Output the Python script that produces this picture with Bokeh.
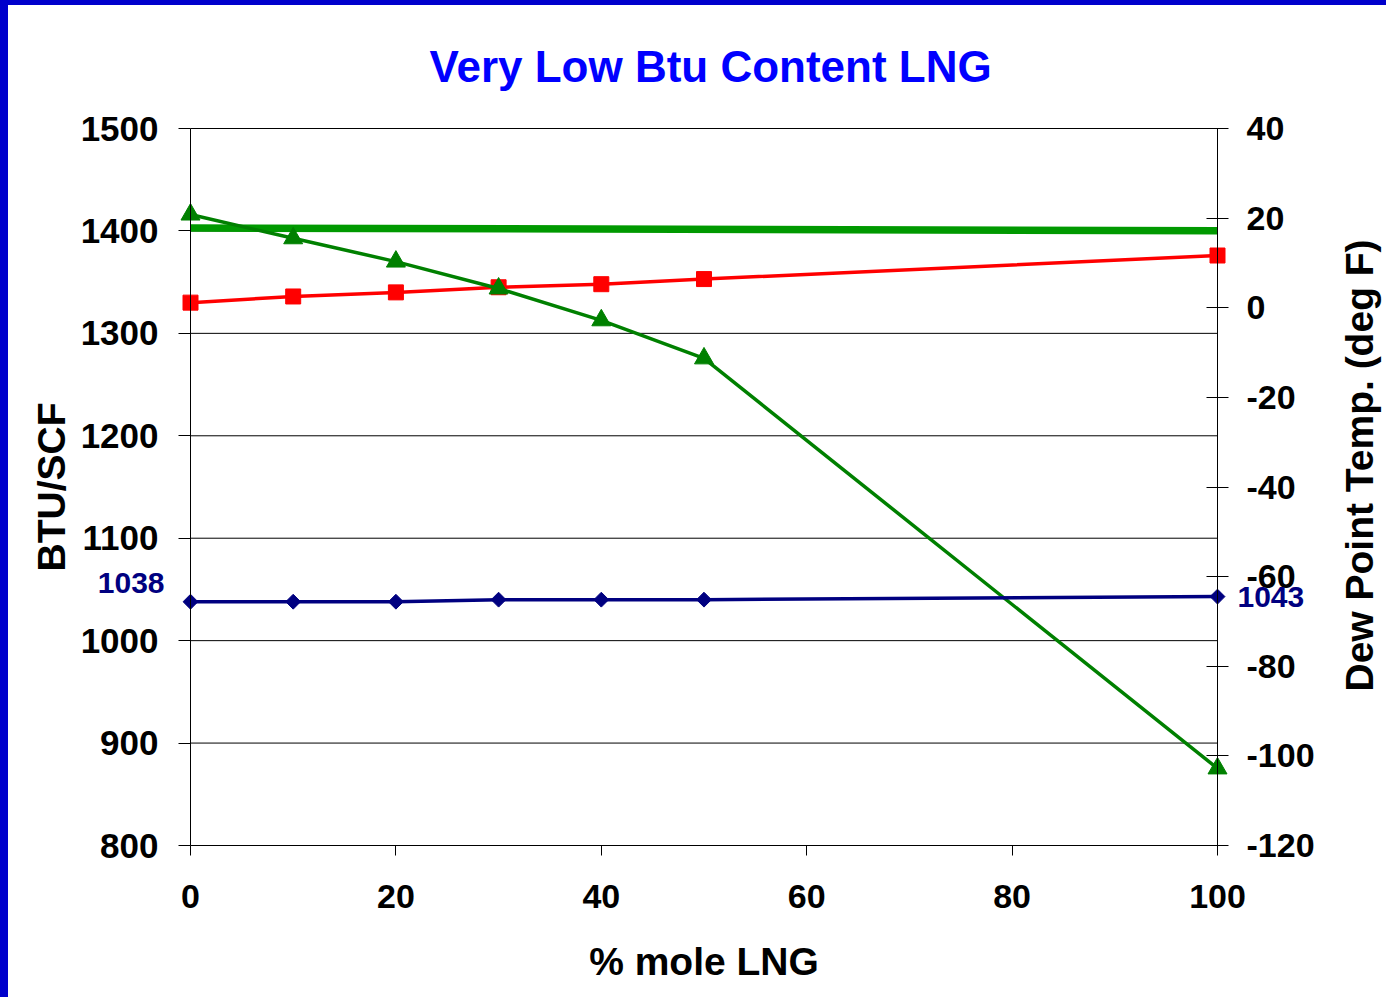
import math
from bokeh.plotting import figure
from bokeh.models import Range1d, LinearAxis, FixedTicker, Label, PrintfTickFormatter
from bokeh.embed import file_html
from bokeh.resources import INLINE

# ---- data ----
pct_lng = [0, 10, 20, 30, 40, 50, 100]
btu_lng_mix = [1038, 1038, 1038, 1040, 1040, 1040, 1043]       # blue, left axis
btu_rich = [1330, 1336, 1340, 1345, 1348, 1353, 1376]          # red, left axis
dew_point = [20.8, 15.5, 10.3, 4.3, -2.8, -11.3, -102.8]        # green, right axis
spec_x = [0, 100]
spec_dew = [17.8, 17.2]                                          # thick green, right axis

x_ticks = [0, 20, 40, 60, 80, 100]
left_ticks = [800, 900, 1000, 1100, 1200, 1300, 1400, 1500]
right_ticks = [-120, -100, -80, -60, -40, -20, 0, 20, 40]

title_text = "Very Low Btu Content LNG"
x_label = "% mole LNG"
left_label = "BTU/SCF"
right_label = "Dew Point Temp. (deg F)"
start_note = "1038"
end_note = "1043"

FONT = "Liberation Sans"

# ---- layout (canvas pixels) ----
W, H = 1386, 997            # canvas size (page offset by the blue border 8px / 5px)
TOP = 90                    # title band above the drawing area
PX_X0, PX_X1 = 182, 1209    # pixel columns of x = 0 and x = 100
PX_Y1, PX_Y0 = 123, 840     # pixel rows of the top and bottom value ticks
PX_RT_START = 686           # pixel row where the right axis title begins

x0, x1 = x_ticks[0], x_ticks[-1]
l0, l1 = left_ticks[0], left_ticks[-1]
r0, r1 = right_ticks[0], right_ticks[-1]
kx = (PX_X1 - PX_X0) / (x1 - x0)
kl = (PX_Y0 - PX_Y1) / (l1 - l0)
kr = (PX_Y0 - PX_Y1) / (r1 - r0)

x_range = Range1d(x0 - PX_X0 / kx, x1 + (W - PX_X1) / kx)
y_range = Range1d(l0 - (H - PX_Y0) / kl, l1 + (PX_Y1 - TOP) / kl)
dew_range = Range1d(r0 - (H - PX_Y0) / kr, r1 + (PX_Y1 - TOP) / kr)

p = figure(width=W, height=H, output_backend="svg", toolbar_location=None,
           x_range=x_range, y_range=y_range, title=title_text,
           min_border_left=0, min_border_right=0, min_border_bottom=0,
           min_border_top=TOP)
p.styles = {"border-left": "8px solid #0000CC", "border-top": "5px solid #0000CC"}
p.extra_y_ranges = {"dew": dew_range}

p.background_fill_color = "white"
p.border_fill_color = "white"
p.outline_line_color = None

p.title.text_font = FONT
p.title.text_font_size = "44px"
p.title.text_font_style = "bold"
p.title.text_color = "#0000FF"
p.title.align = "left"
p.title.offset = 421
p.title.standoff = 9

p.xgrid.visible = False
p.ygrid.visible = False

def style_axis(ax, tick_px="35px"):
    ax.axis_line_color = "black"
    ax.axis_line_width = 1
    ax.major_tick_line_color = "black"
    ax.minor_tick_line_color = None
    ax.major_label_text_font = FONT
    ax.major_label_text_font_size = tick_px
    ax.major_label_text_font_style = "bold"
    ax.major_label_text_color = "black"
    ax.axis_label_text_font = FONT
    ax.axis_label_text_font_size = "39px"
    ax.axis_label_text_font_style = "bold"
    ax.axis_label_text_color = "black"

# bottom axis
xa = p.xaxis[0]
style_axis(xa, "34px")
xa.fixed_location = l0
xa.bounds = (x0, x1)
xa.ticker = FixedTicker(ticks=x_ticks)
xa.major_tick_out = 10
xa.major_tick_in = 0
xa.major_label_standoff = 29
xa.axis_label = x_label
xa.axis_label_standoff = 29

# top border line
ta = LinearAxis(fixed_location=l1, bounds=(x0, x1), ticker=FixedTicker(ticks=[]))
ta.axis_line_color = "black"
ta.major_tick_out = 0
ta.major_tick_in = 0
ta.minor_tick_line_color = None
p.add_layout(ta, "above")

# left value axis
ya = p.yaxis[0]
style_axis(ya, "35px")
ya.fixed_location = x0
ya.bounds = (l0, l1)
ya.ticker = FixedTicker(ticks=left_ticks)
ya.major_tick_out = 12
ya.major_tick_in = 0
ya.major_label_standoff = 20
ya.axis_label = left_label
ya.axis_label_standoff = 5

# right value axis
ra = LinearAxis(y_range_name="dew", fixed_location=x1, bounds=(r0, r1))
style_axis(ra, "34px")
ra.ticker = FixedTicker(ticks=right_ticks)
ra.formatter = PrintfTickFormatter(format="%d")
ra.major_tick_out = 11
ra.major_tick_in = 11
ra.major_label_standoff = 18
p.add_layout(ra, "right")

# right axis title, reading upwards from just below the -80 tick
c = r1 - (PX_RT_START - PX_Y1) / kr
rt = LinearAxis(y_range_name="dew", fixed_location=x1, bounds=(c - 1, c + 1),
                ticker=FixedTicker(ticks=[]))
style_axis(rt)
rt.axis_line_color = None
rt.major_tick_out = 0
rt.major_tick_in = 0
rt.axis_label = right_label
rt.axis_label_orientation = math.pi / 2
rt.axis_label_standoff = 142
p.add_layout(rt, "right")

# horizontal gridlines between the two value axes
mid = left_ticks[1:-1]
p.segment(x0=[x0] * len(mid), x1=[x1] * len(mid), y0=mid, y1=mid,
          line_color="black", line_width=1)

# thick spec line
p.line(spec_x, spec_dew, y_range_name="dew", line_color="#009900", line_width=7.5)

# red series
p.line(pct_lng, btu_rich, line_color="#FF0000", line_width=3.5)
p.scatter(pct_lng, btu_rich, marker="square", size=15, fill_color="#FF0000", line_color="#FF0000")

# green dew point series
p.line(pct_lng, dew_point, y_range_name="dew", line_color="#008000", line_width=3.5)
p.scatter(pct_lng, dew_point, y_range_name="dew", marker="triangle", size=19,
          fill_color="#008000", line_color="#008000")

# blue series
p.line(pct_lng, btu_lng_mix, line_color="#000080", line_width=3.5)
p.scatter(pct_lng, btu_lng_mix, marker="square", size=10.5, angle=0.7853981634,
          fill_color="#000080", line_color="#000080")

p.add_layout(Label(x=pct_lng[0], y=btu_lng_mix[0], x_offset=-26, y_offset=19,
                   text=start_note, text_align="right", text_baseline="middle",
                   text_font=FONT, text_font_size="30px", text_font_style="bold",
                   text_color="#000080"))
p.add_layout(Label(x=pct_lng[-1], y=btu_lng_mix[-1], x_offset=20, y_offset=0,
                   text=end_note, text_align="left", text_baseline="middle",
                   text_font=FONT, text_font_size="30px", text_font_style="bold",
                   text_color="#000080"))

open("out.html", "w").write(file_html(p, INLINE))
